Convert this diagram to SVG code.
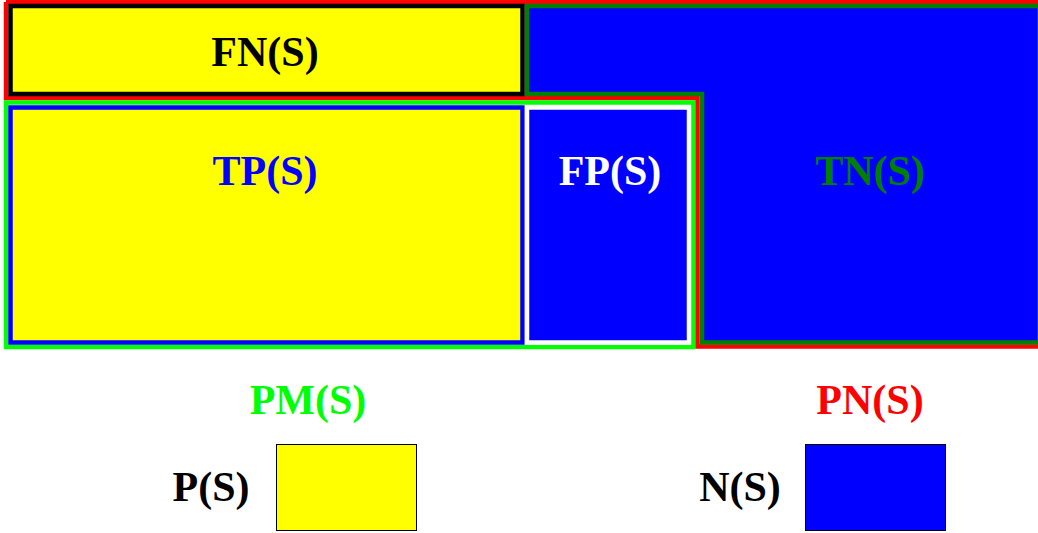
<svg xmlns="http://www.w3.org/2000/svg" width="1038" height="533" viewBox="0 0 1038 533">
  <style>
    .lbl { font-family: "Liberation Serif", "Times New Roman", serif; font-weight: bold; font-size: 42px; text-anchor: middle; }
    .edge { fill: none; stroke-width: 4.5; stroke-linejoin: miter; }
  </style>
  <rect x="0" y="0" width="1038" height="533" fill="#ffffff"/>

  <!-- region fills -->
  <g id="fn">
    <rect x="10.5" y="6" width="512" height="88" fill="#ffff00"/>
  </g>
  <g id="tp">
    <rect x="10.5" y="107.5" width="512" height="235" fill="#ffff00"/>
  </g>
  <g id="fp">
    <rect x="527" y="107.5" width="162" height="235" fill="#0000ff"/>
  </g>
  <g id="tn">
    <path d="M527,6 H1040 V342.5 H702 V94 H527 Z" fill="#0000ff"/>
  </g>

  <!-- outlines of the sets -->
  <g id="connectors">
    <path class="edge" stroke="#ff0000" d="M6,2 H1045 M6,2 V98 H697.5 V346.5 H1045"/>
    <rect class="edge" stroke="#00ff00" x="6" y="102.5" width="687" height="244.5"/>
    <path class="edge" stroke="#008000" d="M527,6 H1039.5 V342.5 H702 V94 H527 Z"/>
    <rect class="edge" stroke="#000000" x="10.5" y="6" width="512" height="88"/>
    <rect class="edge" stroke="#0000ff" x="10.5" y="107.5" width="512" height="235"/>
    <rect class="edge" stroke="#ffffff" x="527" y="107.5" width="162" height="235"/>
  </g>

  <!-- region labels -->
  <g id="labels">
    <text class="lbl" x="265" y="66" fill="#000000">FN(S)</text>
    <text class="lbl" x="265" y="185" fill="#0000ff">TP(S)</text>
    <text class="lbl" x="610" y="185" fill="#ffffff">FP(S)</text>
    <text class="lbl" x="870" y="185" fill="#008000">TN(S)</text>
  </g>

  <!-- legend -->
  <g id="legend-pm">
    <text class="lbl" x="308" y="414" fill="#00ff00">PM(S)</text>
  </g>
  <g id="legend-pn">
    <text class="lbl" x="870" y="414" fill="#ff0000">PN(S)</text>
  </g>
  <g id="legend-p">
    <text class="lbl" x="211" y="501" fill="#000000">P(S)</text>
    <rect x="276.5" y="444.5" width="140" height="86" fill="#ffff00" stroke="#000000" stroke-width="1"/>
  </g>
  <g id="legend-n">
    <text class="lbl" x="740" y="501" fill="#000000">N(S)</text>
    <rect x="805.5" y="444.5" width="140" height="86" fill="#0000ff" stroke="#000000" stroke-width="1"/>
  </g>
</svg>
